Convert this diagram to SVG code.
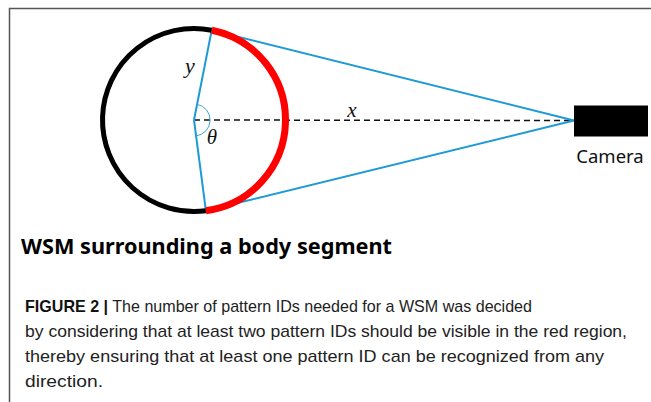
<svg xmlns="http://www.w3.org/2000/svg" width="651" height="402" viewBox="0 0 651 402">
<style>
.blue{stroke:#1e9ad6;stroke-width:2;fill:none}
.math{font-family:"Liberation Serif","DejaVu Serif",serif;font-style:italic;fill:#111}
.cap{font-family:"Liberation Sans","Noto Sans",sans-serif;font-size:17px;fill:#222}
</style>
<rect width="651" height="402" fill="#fff"/>
<path d="M9.5,402 V8.5 H651" fill="none" stroke="#555" stroke-width="1.5"/>
<g id="connectors">
<line x1="194" y1="120" x2="574" y2="120.5" stroke="#111" stroke-width="1.5" stroke-dasharray="6 4"/>
<line class="blue" x1="194" y1="120" x2="211.7" y2="30.2"/>
<line class="blue" x1="194" y1="120" x2="205.9" y2="210.7"/>
<line class="blue" x1="211.7" y1="30.2" x2="574" y2="120.5"/>
<line class="blue" x1="205.9" y1="210.7" x2="574" y2="120.5"/>
<path d="M197.1,104.3 A16,16 0 0 1 196.1,135.9" fill="none" stroke="#3aa6e0" stroke-width="1"/>
</g>
<g id="wsm">
<path d="M211.7,30.2 A91.5,91.5 0 1 0 205.9,210.7" fill="none" stroke="#000" stroke-width="5"/>
<path d="M211.7,30.2 A91.5,91.5 0 0 1 205.9,210.7" fill="none" stroke="#ff0000" stroke-width="7"/>
</g>
<g id="labels">
<text class="math" x="190" y="73" font-size="22" text-anchor="middle">y</text>
<text class="math" x="352" y="117" font-size="21" text-anchor="middle">x</text>
<text class="math" x="212" y="144" font-size="21" text-anchor="middle">θ</text>
</g>
<g id="camera">
<rect x="574" y="105.5" width="74" height="31" fill="#000"/>
<text x="610" y="163" font-family="'Noto Sans','Liberation Sans',sans-serif" font-size="18.5" text-anchor="middle" fill="#111">Camera</text>
</g>
<g id="title">
<text x="21" y="254" font-family="'Noto Sans','Liberation Sans',sans-serif" font-size="20.5" font-weight="bold" fill="#000" textLength="371" lengthAdjust="spacingAndGlyphs">WSM surrounding a body segment</text>
</g>
<g id="caption">
<text class="cap" x="25" y="312" textLength="507" lengthAdjust="spacingAndGlyphs"><tspan font-weight="bold" fill="#111">FIGURE 2 |</tspan> The number of pattern IDs needed for a WSM was decided</text>
<text class="cap" x="25" y="337" textLength="602" lengthAdjust="spacingAndGlyphs">by considering that at least two pattern IDs should be visible in the red region,</text>
<text class="cap" x="25" y="362" textLength="579" lengthAdjust="spacingAndGlyphs">thereby ensuring that at least one pattern ID can be recognized from any</text>
<text class="cap" x="25" y="387" textLength="78" lengthAdjust="spacingAndGlyphs">direction.</text>
</g>
</svg>
